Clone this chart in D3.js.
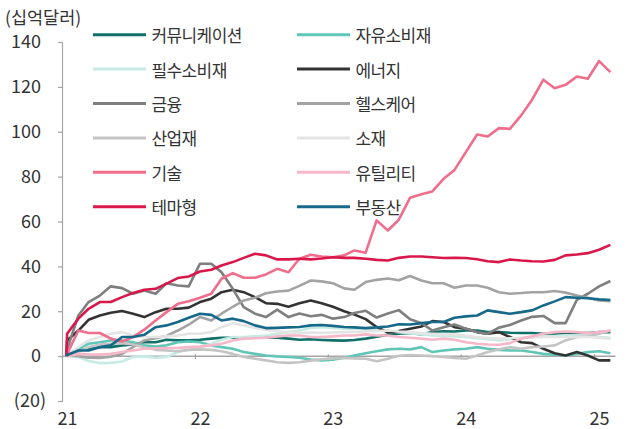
<!DOCTYPE html>
<html>
<head>
<meta charset="utf-8">
<script src="https://cdn.jsdelivr.net/npm/d3@7"></script>
<style>
  body { margin: 0; background: #fff; }
  svg { display: block; font-family: "Noto Sans CJK KR", "Noto Sans", sans-serif; }
</style>
</head>
<body>
<svg id="chart" width="630" height="429"></svg>
<script>
// 섹터별 누적 자금 유입 (십억달러), 2021년 1월 = 0, 월별
const names = ['커뮤니케이션', '자유소비재', '필수소비재', '에너지', '금융', '헬스케어',
               '산업재', '소재', '기술', '유틸리티', '테마형', '부동산'];
const colors = ['#12706a', '#62c6b7', '#c6ebe5', '#333333', '#7f7f7f', '#a3a3a3',
                '#c4c4c4', '#e4e4e4', '#f06d8c', '#f6b7c9', '#d9174b', '#17698a'];

const comm = [1,2.5,3.3,4,4,4.8,5.2,6.2,6.2,7.3, 7,7,7.3,7.8,8.2,8.2,8.2,8.5,8.3,8.2,
  7.8,7.3,7.5,7.2,7,6.9,7.2,7.8,8.6,9.5, 10,10.3,9.7,10.7,11.1,11,11.4,11.4,10.7,10.7,
  10.4,10.3,10.3,10,10,10.3,10.3,10.3,10.7,10.7];
const discr = [0.5,3.3,5.5,6.2,7,7,6.2,4.8,4.3,4.8, 6.2,6.5,6.2,4.8,4,3.3,1.8,1,0.3,-0.1,
  -0.4,-0.7,-1.5,-1.9,-1.6,-0.7,0.3,1.3,2.2,3, 3.3,3,4,1.8,2.5,3,3.3,4,3.3,2.8,
  2.5,2.5,1.8,1,0.6,0.3,1,1.8,2.2,1.3];
const staples = [0,-0.4,-2.2,-3.1,-3,-2.4,-0.4,-0.1,-0.7,-0.4, 1.8,2.8,4,5.5,7.3,8.5,8.5,8.8,9.2,10,
  10.7,11.4,12.5,12.9,12.6,12.2,12.2,12.2,11.8,11.2, 10.7,10.2,9.7,9.2,9,8.8,8.5,8,7.5,7,
  7.5,8,8.5,8.8,9,9.2,9,8.8,8.5,8.2];
const energy = [7,11.4,16.2,18.1,19.3,20.1,18.9,17.4,19.6,21.1, 21.1,21.6,24.1,25.6,28.5,29.6,28.5,26.3,23.6,23.3,
  22,23.6,24.8,23.6,22,20,18.5,16.5,13,10.5, 11.2,12.2,13.2,15.6,15.2,12.9,12.2,10.7,10,10.7,
  8.5,6.2,5.8,3.3,1.3,0.3,1.8,0.3,-1.9,-1.9];
const financials = [3,18.1,24.1,27,31.1,30.3,27.8,29.3,27.8,32.5, 31.5,31.1,41.2,41.2,37.4,30,21.8,18.9,17.4,20.7,
  17.4,19,17.8,18.4,16.7,17.4,19.2,20.2,17.2,19, 20.5,16.4,14.7,11.4,12.9,14.1,12.2,10.7,10,12.7,
  13.9,15.9,17.5,17.9,14.7,14.7,25.1,27.8,31.1,33.5];
const health = [0.3,0,-0.7,-0.8,-0.3,1,4,7,8,9, 11.4,14,17.4,15.9,18.9,22,24.8,26,28,28.8,
  29.2,31.3,33.7,33.3,32.5,30.2,29.6,33,34,34.6, 33.8,35.7,33.7,32.5,32.5,30.5,31.5,31.5,30.5,28.5,
  27.8,28.1,28.5,28.5,29,28.3,27,26,24.8,24.5];
const industrials = [0.5,1.8,4,5.2,5.5,5.8,5.2,4,2.8,2.5, 2.2,2.8,3,2.8,2.2,1,-0.4,-1.2,-1.9,-2.7,
  -3,-2.7,-2,-1.4,-1,-0.8,-1,-1.2,-2.3,-1.2, 0.2,0.5,0.3,0,-0.4,-0.8,-1.2,0.3,1.8,3,
  4,3.3,4,4.3,4.8,7,8.5,8.8,10,11.4];
const materials = [0.5,4,7,8.5,10,10.7,9.2,8.5,8.5,8.8, 9.2,10,10,10.7,12.9,14.7,13.7,12.5,11.8,11.1,
  10.7,10.3,10.5,10.3,10.5,10.7,10.8,11,11.2,11.4, 11,10.7,10.3,10,9.8,9.7,9.1,8.5,8.1,7.8,
  8,8.2,8.3,8.5,8.5,8.5,8.5,8.5,8.2,7.8];
const tech = [1,11.4,10.3,10.3,7.8,6.5,8.5,11.8,15.9,19.6, 23.3,24.5,26,27.8,34.5,37,34.9,34.9,36.4,38.9,
  37.4,43.4,45.2,44.4,44.1,44.9,47.1,46.1,60.5,56, 60.8,70.6,72.1,73.4,79,83,90.9,98.8,97.9,101.6,
  101.3,107.3,114.3,123.2,119.4,120.9,124.6,123.6,131.5,126.6];
const utilities = [0,1,0.8,0.7,1,1.8,2.5,3.3,3.5,3.6, 3.6,4,4.3,4.8,5.5,7,7.8,8,8.2,8.8,
  9.2,9.2,8.5,8.5,8.8,9.2,9.2,9.7,9.2,9.2, 8.5,8.2,7.8,7.3,7.8,7.3,6.2,5.5,5.2,5.1,
  5.8,7.8,8.8,10,10.7,11,10.7,10.3,10.7,11.4];
const thematic = [10,16.7,21.1,24.1,24.1,26.3,28.1,29.6,30,32.3, 34.8,35.5,37.7,38.5,40.4,41.9,43.8,45.6,44.9,43.1,
  43.1,43.4,43.1,43.5,44.1,43.8,43.8,43.4,42.9,42.6, 43.8,44.4,44.4,44.1,43.7,43.8,43.7,43.2,42.3,41.9,
  43.1,42.6,42.3,42.2,42.9,44.9,45.3,45.9,47.4,49.6];
const realEstate = [0.5,2.5,2.5,4,4.8,8.5,8.5,9.5,12.9,13.7, 15.2,17.1,18.9,18.4,15.9,16.7,15.6,13.7,12.5,12.6,
  12.8,13,13.7,13.9,13.5,13,12.8,12.5,12.8,13.2, 14.2,14.1,14.7,15.2,15.2,17.1,17.7,18.1,20.4,19.6,
  18.9,19.6,20.4,22.6,24.4,26.3,26,25.8,25.3,25];

const values = [comm, discr, staples, energy, financials, health,
                industrials, materials, tech, utilities, thematic, realEstate];

const yTicks = [-20, 0, 20, 40, 60, 80, 100, 120, 140];
const yearTicks = [2021, 2022, 2023, 2024, 2025];

// 기준점(0) + 2021.01 ~ 2025.02 월중
const dates = [new Date(2021, 0, 13)].concat(d3.range(50).map(i => new Date(2021, i, 15)));

const svg = d3.select('#chart');

const x = d3.scaleTime()
  .domain([new Date(2021, 0, 1), new Date(2025, 0, 1)])
  .range([62, 594]);
const y = d3.scaleLinear().domain([-20, 140]).range([401, 42]);

// --- y axis ---
const yAxis = svg.append('g')
  .attr('transform', 'translate(62,0)')
  .call(d3.axisLeft(y).tickValues(yTicks).tickSize(4).tickPadding(17)
    .tickFormat(d => d < 0 ? `(${-d})` : d));
yAxis.select('.domain').attr('stroke', '#a6a6a6').attr('stroke-width', 1.2);
yAxis.selectAll('.tick line').attr('stroke', '#a6a6a6').attr('stroke-width', 1.2);
yAxis.selectAll('.tick text')
  .attr('font-size', 18).attr('fill', '#333')
  .attr('font-family', '"Noto Sans CJK KR", sans-serif')
  .attr('dx', d => d < 0 ? 5 : 0);

// --- zero line + year ticks ---
svg.append('line')
  .attr('x1', x(new Date(2021, 0, 1))).attr('x2', x(new Date(2025, 2, 1)))
  .attr('y1', y(0)).attr('y2', y(0))
  .attr('stroke', '#a6a6a6').attr('stroke-width', 1.5);

const xAxis = svg.append('g')
  .attr('transform', `translate(0,${y(0)})`)
  .call(d3.axisBottom(x).tickValues(yearTicks.map(yr => new Date(yr, 0, 1)))
    .tickSize(3).tickPadding(53).tickFormat(d => String(d.getFullYear()).slice(2)));
xAxis.select('.domain').remove();
xAxis.selectAll('.tick line').attr('stroke', '#a6a6a6').attr('stroke-width', 1.2).attr('y1', -2);
xAxis.selectAll('.tick text')
  .attr('font-size', 18).attr('fill', '#333').attr('dx', 5)
  .attr('font-family', '"Noto Sans CJK KR", sans-serif');

// --- lines ---
const line = d3.line()
  .x((d, i) => x(dates[i]))
  .y(d => y(d));

svg.append('g').selectAll('path')
  .data(values.map((v, k) => ({ name: names[k], color: colors[k], v: [0].concat(v) })))
  .join('path')
  .attr('d', d => line(d.v))
  .attr('fill', 'none')
  .attr('stroke', d => d.color)
  .attr('stroke-width', 2.6)
  .attr('stroke-linejoin', 'round');

// --- unit label ---
svg.append('text')
  .attr('x', 5).attr('y', 16)
  .attr('dominant-baseline', 'central')
  .attr('font-size', 17.5).attr('fill', '#333')
  .text('(십억달러)');

// --- legend ---
const legend = svg.append('g').selectAll('g')
  .data(names.map((n, k) => ({ name: n, color: colors[k], col: k % 2, row: Math.floor(k / 2) })))
  .join('g')
  .attr('transform', d => `translate(${d.col ? 297 : 93},${34.7 + d.row * 34.4})`);

legend.append('line')
  .attr('x1', 0).attr('x2', 53)
  .attr('stroke', d => d.color).attr('stroke-width', 3);

legend.append('text')
  .attr('x', 58.5)
  .attr('dominant-baseline', 'central')
  .attr('font-size', 17).attr('letter-spacing', -0.6).attr('fill', '#333')
  .text(d => d.name);
</script>
</body>
</html>
